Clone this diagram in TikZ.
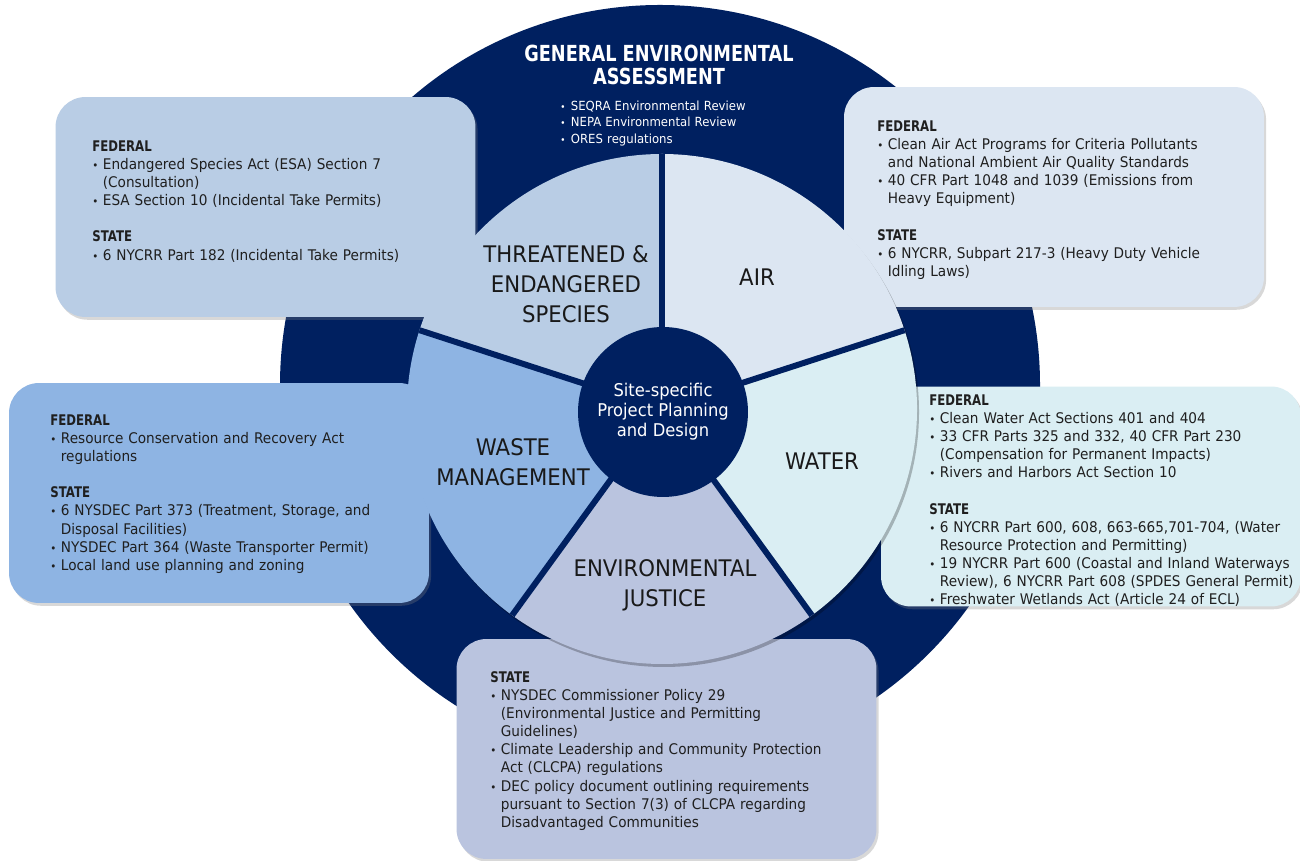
\documentclass[tikz,border=0pt]{standalone}
\usepackage{fontspec}
\setmainfont{DejaVu Sans}[FakeStretch=0.93]
\newfontfamily\headfont{DejaVu Sans}[FakeStretch=0.8]
\usetikzlibrary{calc,shadows}

\definecolor{navy}{HTML}{002060}
\definecolor{speciesblue}{HTML}{B9CDE5}
\definecolor{airblue}{HTML}{DCE6F2}
\definecolor{waterblue}{HTML}{DAEEF3}
\definecolor{justiceblue}{HTML}{BAC4DF}
\definecolor{wasteblue}{HTML}{8EB4E3}

\newlength{\bulind}
\setlength{\bulind}{6pt}
\newcommand{\itm}{\par\hangindent=\bulind\hangafter=1\noindent\makebox[\bulind][l]{\scalebox{0.75}{\textbullet}}}
\newcommand{\hd}[1]{\par\noindent{\headfont\bfseries #1}}
\newcommand{\gap}{\par\vspace{10.3pt}}

\tikzstyle{regbox}=[rectangle,rounded corners=0.6cm,minimum width=8.4cm,minimum height=4.4cm,drop shadow={opacity=0.3,shadow xshift=1.2pt,shadow yshift=-1.6pt}]
\tikzstyle{regtext}=[anchor=north west,inner sep=0,text width=9cm,align=left,text=black!88,font=\fontsize{8.35}{10.3}\selectfont]
\tikzstyle{sector}=[text=black!90,align=center,font=\fontsize{13}{17}\selectfont]
\tikzstyle{divider}=[draw=navy,line width=3.4pt]

\begin{document}
\begin{tikzpicture}[x=0.02cm,y=0.02cm]
	\def \R {255};
	\def \Rout {380};
	\useasboundingbox (0,0) rectangle (1300,861);
	\fill[white] (0,0) rectangle (1300,861);

	\coordinate (ring) at (660,476);
	\coordinate (pc) at (662,452);
	\fill[navy] (ring) circle (\Rout);

	\node[regbox,fill=speciesblue] (speciesbox) at (265.5,654) {};
	\node[regbox,fill=airblue] (airbox) at (1054,664) {};
	\node[regbox,fill=wasteblue] (wastebox) at (219,368) {};
	\node[regbox,fill=waterblue] (waterbox) at (1091,364.5) {};
	\node[regbox,fill=justiceblue] (justicebox) at (666.5,112) {};

	\fill[black,opacity=0.25] ($(pc)+(2,-3)$) circle (\R);
	\foreach \a/\col in {18/airblue,90/speciesblue,162/wasteblue,234/justiceblue,306/waterblue} {
		\fill[\col] (pc) -- ++(\a:\R) arc[start angle=\a,delta angle=72,radius=\R] -- cycle;
	};
	\foreach \a in {18,90,162,234,306} {
		\draw[divider] (pc) -- ++(\a:\R);
	};

	\node[circle,fill=navy,minimum size=3.4cm,inner sep=0,text=white,align=center,font=\fontsize{10}{11.3}\selectfont] (core) at (663,449) {Site-specific\\Project Planning\\and Design};

	\node[sector] (species) at (566,577) {THREATENED \&\\ENDANGERED\\SPECIES};
	\node[sector] (air) at (757,584) {AIR};
	\node[sector] (water) at (822,400) {WATER};
	\node[sector] (justice) at (665,276) {ENVIRONMENTAL\\JUSTICE};
	\node[sector] (waste) at (513,398.5) {WASTE\\MANAGEMENT};

	\node[text=white,align=center,font=\headfont\bfseries\fontsize{12.6}{13.6}\selectfont] (gentitle) at (659,796) {GENERAL ENVIRONMENTAL\\ASSESSMENT};
	\node[regtext,text=white,font=\fontsize{7.15}{9.35}\selectfont] (gentext) at (560,767.6) {\itm SEQRA Environmental Review
		\itm NEPA Environmental Review
		\itm ORES regulations\par};

	\node[regtext] (speciestext) at (92,728) {\hd{FEDERAL}
		\itm Endangered Species Act (ESA) Section 7\newline (Consultation)
		\itm ESA Section 10 (Incidental Take Permits)\gap
		\hd{STATE}
		\itm 6 NYCRR Part 182 (Incidental Take Permits)\par};

	\node[regtext] (airtext) at (877,748) {\hd{FEDERAL}
		\itm Clean Air Act Programs for Criteria Pollutants\newline and National Ambient Air Quality Standards
		\itm 40 CFR Part 1048 and 1039 (Emissions from\newline Heavy Equipment)\gap
		\hd{STATE}
		\itm 6 NYCRR, Subpart 217-3 (Heavy Duty Vehicle\newline Idling Laws)\par};

	\node[regtext] (wastetext) at (50,454) {\hd{FEDERAL}
		\itm Resource Conservation and Recovery Act\newline regulations\gap
		\hd{STATE}
		\itm 6 NYSDEC Part 373 (Treatment, Storage, and\newline Disposal Facilities)
		\itm NYSDEC Part 364 (Waste Transporter Permit)
		\itm Local land use planning and zoning\par};

	\node[regtext] (watertext) at (929,474) {\hd{FEDERAL}
		\itm Clean Water Act Sections 401 and 404
		\itm 33 CFR Parts 325 and 332, 40 CFR Part 230\newline (Compensation for Permanent Impacts)
		\itm Rivers and Harbors Act Section 10\gap
		\hd{STATE}
		\itm 6 NYCRR Part 600, 608, 663-665,701-704, (Water\newline Resource Protection and Permitting)
		\itm 19 NYCRR Part 600 (Coastal and Inland Waterways\newline Review), 6 NYCRR Part 608 (SPDES General Permit)
		\itm Freshwater Wetlands Act (Article 24 of ECL)\par};

	\node[regtext] (justicetext) at (490,197) {\hd{STATE}
		\itm NYSDEC Commissioner Policy 29\newline (Environmental Justice and Permitting\newline Guidelines)
		\itm Climate Leadership and Community Protection\newline Act (CLCPA) regulations
		\itm DEC policy document outlining requirements\newline pursuant to Section 7(3) of CLCPA regarding\newline Disadvantaged Communities\par};
\end{tikzpicture}
\end{document}
